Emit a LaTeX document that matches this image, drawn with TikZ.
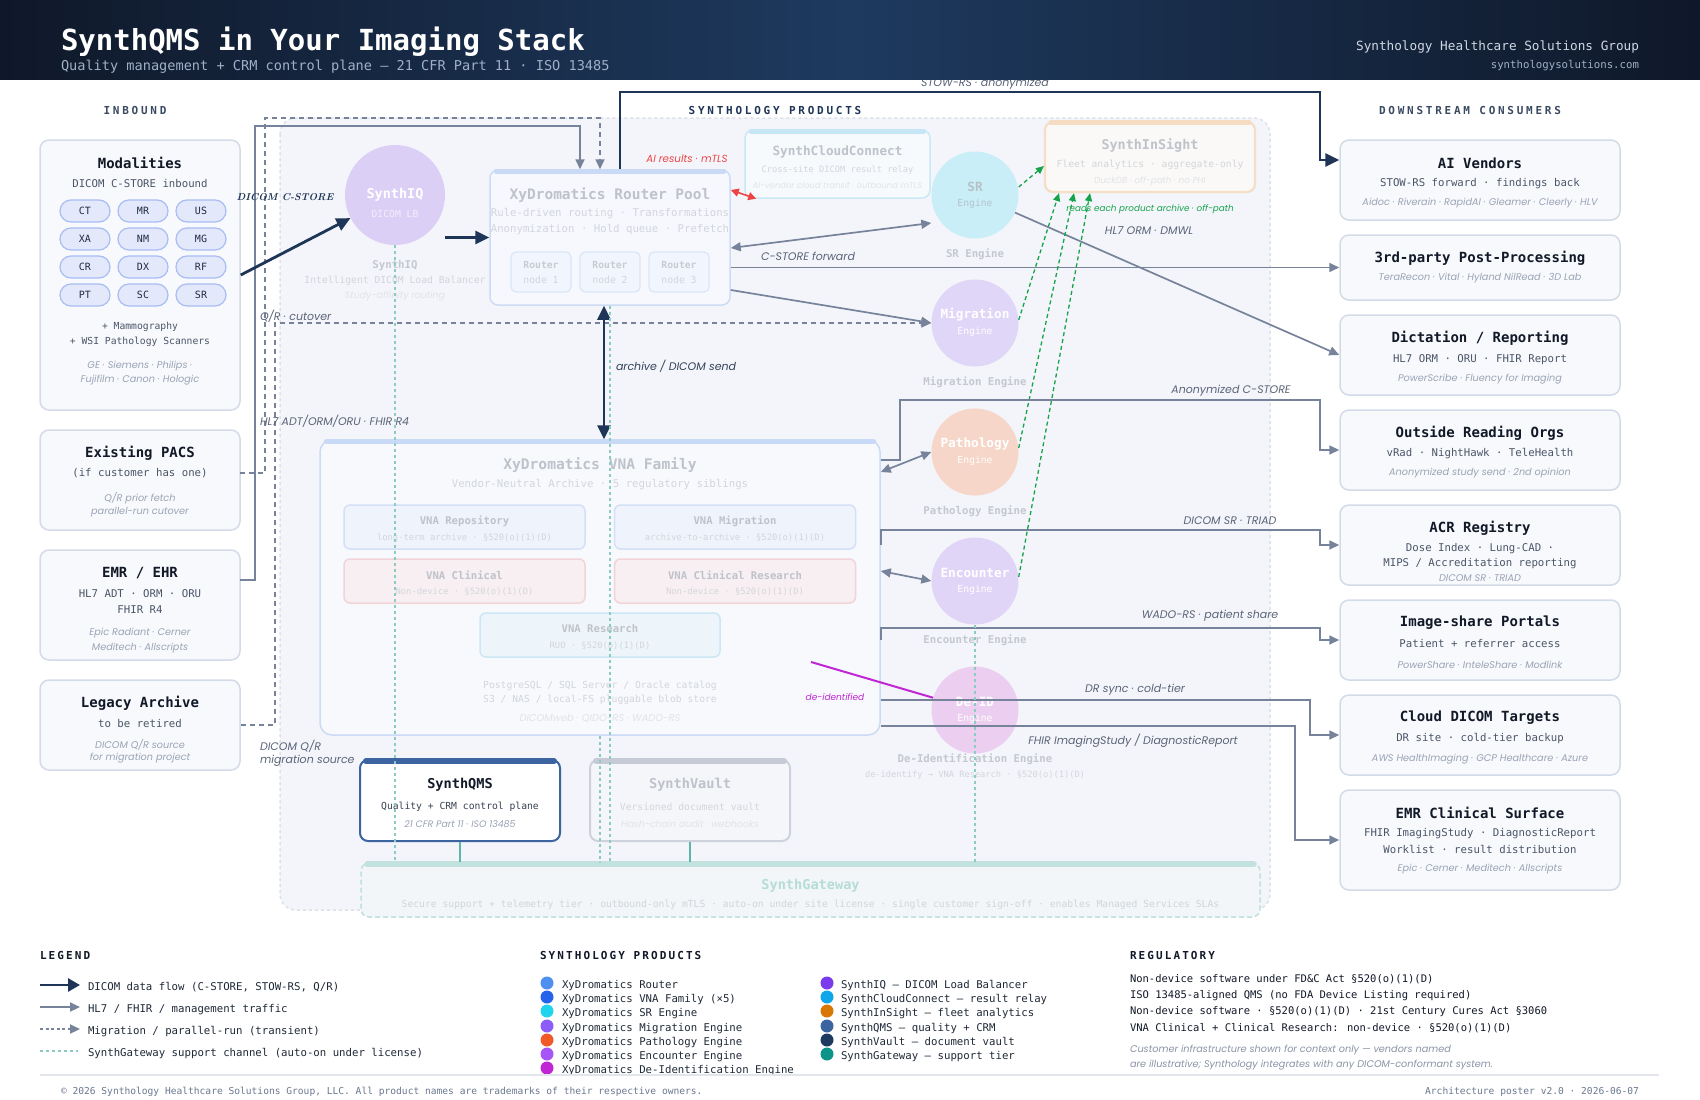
\documentclass[tikz,border=0pt]{standalone}
\usepackage{fontspec}
\setmonofont{DejaVu Sans Mono}
\newfontfamily\mono{DejaVu Sans Mono}
\newfontfamily\headf{DejaVu Sans Mono}[LetterSpace=25]
\newfontfamily\legf{DejaVu Sans Mono}[LetterSpace=19]
\newfontfamily\lab{Poppins}
\usetikzlibrary{arrows.meta,calc}
\newcommand\fsz[1]{\fontsize{#1}{#1}\selectfont}
\newcommand\T[4]{\node[#1] (#2) at (#3) {#4};}
\newcommand\topbar[3]{\draw[line width=#3, draw=#2, line cap=round] ($(#1.north west)+(7,2)$) -- ($(#1.north east)+(-7,2)$);}
\definecolor{hdl}{HTML}{0F1829}
\definecolor{hdm}{HTML}{1E3A5F}
\definecolor{cnavy}{HTML}{1E3557}
\definecolor{cgray}{HTML}{77839A}
\definecolor{ctitle}{HTML}{111827}
\definecolor{csub}{HTML}{4B5568}
\definecolor{cital}{HTML}{9AA3B5}
\definecolor{clbl}{HTML}{5B6478}
\definecolor{cbd}{HTML}{D3DBE8}
\definecolor{cbf}{HTML}{F7F9FC}
\definecolor{pfill}{HTML}{F3F5FA}
\definecolor{pbord}{HTML}{DCE1E9}
\definecolor{ft1}{HTML}{BEC2CA}
\definecolor{ft2}{HTML}{D2D5DB}
\definecolor{ft3}{HTML}{E1E3E7}
\definecolor{cteal}{HTML}{8CCBC2}
\definecolor{cteals}{HTML}{5DB5AA}
\definecolor{cred}{HTML}{EF4444}
\definecolor{cgreen}{HTML}{16A34A}
\definecolor{cmag}{HTML}{C026D3}
\definecolor{cqms}{HTML}{3B64A0}
\definecolor{pillbd}{HTML}{A9BDF5}
\definecolor{pillfi}{HTML}{E3E9FB}
\definecolor{pilltx}{HTML}{1F2A44}
\definecolor{englb}{HTML}{C4C8CF}
\definecolor{legtx}{HTML}{1F2937}
\definecolor{hsubc}{HTML}{9FB0C8}
\definecolor{hr1c}{HTML}{D0D8E4}
\definecolor{secc}{HTML}{3B4A63}
\definecolor{iqfill}{HTML}{DCCFF6}
\definecolor{iqsub}{HTML}{F3EEFD}
\definecolor{rtbd}{HTML}{CDDCF5}
\definecolor{rtfi}{HTML}{F6F8FD}
\definecolor{rtbar}{HTML}{C9DAF6}
\definecolor{rnbd}{HTML}{DCE6F7}
\definecolor{rnfi}{HTML}{F1F5FD}
\definecolor{rntx}{HTML}{C7CBD2}
\definecolor{ccbd}{HTML}{CBE8F6}
\definecolor{ccfi}{HTML}{F7FAFD}
\definecolor{ccbar}{HTML}{C6E6F6}
\definecolor{insbd}{HTML}{F5DEC6}
\definecolor{insfi}{HTML}{FAF9F8}
\definecolor{insbar}{HTML}{F5DCC2}
\definecolor{vnabd}{HTML}{CBDAF5}
\definecolor{vnafi}{HTML}{F7F9FD}
\definecolor{repbd}{HTML}{D3E0F7}
\definecolor{repfi}{HTML}{EFF3FC}
\definecolor{clibd}{HTML}{F2D4D8}
\definecolor{clifi}{HTML}{F8EFF2}
\definecolor{resbd}{HTML}{CCE7F4}
\definecolor{resfi}{HTML}{EDF5FB}
\definecolor{srfi}{HTML}{C9EEF7}
\definecolor{migfi}{HTML}{E0D6F7}
\definecolor{pathfi}{HTML}{F5D6C8}
\definecolor{encfi}{HTML}{E1D5F7}
\definecolor{deidfi}{HTML}{ECCFF0}
\definecolor{srtx}{HTML}{B5C3C9}
\definecolor{qmssub}{HTML}{374151}
\definecolor{vabd}{HTML}{CDD2DC}
\definecolor{vafi}{HTML}{F5F6F9}
\definecolor{vabar}{HTML}{C5CAD6}
\definecolor{gwbd}{HTML}{BFE0DD}
\definecolor{gwfi}{HTML}{F3F6F9}
\definecolor{gwbar}{HTML}{C2E2DF}
\definecolor{gwtx}{HTML}{B5DCD6}
\definecolor{gwsub}{HTML}{CFD5D9}
\definecolor{arlab}{HTML}{34425A}
\definecolor{notec}{HTML}{8A93A6}
\definecolor{divc}{HTML}{E2E6EC}
\definecolor{footc}{HTML}{6B7890}
\definecolor{d1}{HTML}{4F8FF0}\definecolor{d2}{HTML}{2563EB}\definecolor{d3}{HTML}{22D3EE}
\definecolor{d4}{HTML}{8B5CF6}\definecolor{d5}{HTML}{F05A28}\definecolor{d6}{HTML}{A855F7}
\definecolor{d7}{HTML}{C026D3}\definecolor{e1}{HTML}{7C3AED}\definecolor{e2}{HTML}{0EA5E9}
\definecolor{e3}{HTML}{D97706}\definecolor{e4}{HTML}{3B64A0}\definecolor{e5}{HTML}{1E3A5F}
\definecolor{e6}{HTML}{0D9488}
\begin{document}
\begin{tikzpicture}[x=1pt,y=-1pt,
  t/.style={inner sep=0pt, outer sep=0pt},
  box/.style={draw=cbd, line width=1.5pt, fill=cbf, rounded corners=9pt, inner sep=0pt},
  ttl/.style={t, font=\mono\bfseries\fsz{14}, text=ctitle},
  sub/.style={t, font=\mono\fsz{10.7}, text=csub, yshift=-1.5pt},
  ital/.style={t, font=\lab\itshape\fsz{9.7}, text=cital, yshift=-1.5pt},
  lbl/.style={t, font=\lab\itshape\fsz{11}, text=clbl},
  sec/.style={t, font=\headf\bfseries\fsz{11}},
  pill/.style={draw=pillbd, fill=pillfi, line width=1.2pt, rounded corners=11pt, minimum width=50pt, minimum height=22pt, inner sep=0pt, font=\mono\fsz{10}, text=pilltx},
  fbox/.style={line width=1.5pt, rounded corners=8pt, inner sep=0pt},
  eng/.style={circle, minimum size=87pt, inner sep=0pt, draw=none},
  engt/.style={t, font=\mono\bfseries\fsz{12.7}, text=white},
  engs/.style={t, font=\mono\fsz{9.7}, text=white},
  englab/.style={t, font=\mono\bfseries\fsz{10.7}, text=englb},
  navyarr/.style={draw=cnavy, line width=2.8pt, -{Triangle[length=14pt,width=13pt]}},
  garr/.style={draw=cgray, line width=1.7pt, -{Triangle[length=10pt,width=9pt]}},
  gdash/.style={garr, dash pattern=on 5pt off 4pt},
  tealdot/.style={draw=cteal, line width=1.5pt, dash pattern=on 3pt off 3pt},
  greendash/.style={draw=cgreen, line width=1.3pt, dash pattern=on 4pt off 3pt, -{Triangle[length=8pt,width=7pt]}},
  dot/.style={circle, minimum size=13pt, inner sep=0pt, draw=none},
  legt/.style={t, anchor=west, font=\mono\fsz{10.7}, text=legtx, yshift=-2.5pt}
]
\useasboundingbox (0,0) rectangle (1700,1100);
\fill[white] (0,0) rectangle (1700,1100);
% section heads
\T{sec, text=secc}{sInb}{135,110}{INBOUND}
\T{sec, text=cnavy}{sProd}{775,110}{SYNTHOLOGY PRODUCTS}
\T{sec, text=secc}{sDown}{1470,110}{DOWNSTREAM CONSUMERS}
% products panel
\draw[fill=pfill, draw=pbord, line width=1.5pt, dash pattern=on 3pt off 3pt, rounded corners=16pt] (280,118) rectangle (1270,910);
% left boxes
\node[box, minimum width=200pt, minimum height=270pt] (mod) at (140,275) {};
\node[box, minimum width=200pt, minimum height=100pt] (pacs) at (140,480) {};
\node[box, minimum width=200pt, minimum height=110pt] (emr) at (140,605) {};
\node[box, minimum width=200pt, minimum height=90pt] (legacy) at (140,725) {};
\T{ttl}{modT}{140,163}{Modalities}
\T{sub}{modS}{140,182}{DICOM C-STORE inbound}
\node[pill] (p1) at (85,211) {CT};
\node[pill] (p2) at (143,211) {MR};
\node[pill] (p3) at (201,211) {US};
\node[pill] (p4) at (85,239) {XA};
\node[pill] (p5) at (143,239) {NM};
\node[pill] (p6) at (201,239) {MG};
\node[pill] (p7) at (85,267) {CR};
\node[pill] (p8) at (143,267) {DX};
\node[pill] (p9) at (201,267) {RF};
\node[pill] (p10) at (85,295) {PT};
\node[pill] (p11) at (143,295) {SC};
\node[pill] (p12) at (201,295) {SR};
\T{sub, font=\mono\fsz{9.7}}{modM1}{140,325}{+ Mammography}
\T{sub, font=\mono\fsz{9.7}}{modM2}{140,340}{+ WSI Pathology Scanners}
\T{ital}{modI1}{140,365}{GE · Siemens · Philips ·}
\T{ital}{modI2}{140,379}{Fujifilm · Canon · Hologic}
\T{ttl}{pacsT}{140,453}{Existing PACS}
\T{sub}{pacsS}{140,472}{(if customer has one)}
\T{ital}{pacsI1}{140,497}{Q/R prior fetch}
\T{ital}{pacsI2}{140,511}{parallel-run cutover}
\T{ttl}{emrT}{140,573}{EMR / EHR}
\T{sub}{emrS1}{140,592}{HL7 ADT · ORM · ORU}
\T{sub}{emrS2}{140,608}{FHIR R4}
\T{ital}{emrI1}{140,632}{Epic Radiant · Cerner}
\T{ital}{emrI2}{140,647}{Meditech · Allscripts}
\T{ttl}{legT}{140,703}{Legacy Archive}
\T{sub}{legS}{140,722}{to be retired}
\T{ital}{legI1}{140,743}{DICOM Q/R source}
\T{ital}{legI2}{140,757}{for migration project}
% right boxes
\node[box, minimum width=280pt, minimum height=80pt] (ai) at (1480,180) {};
\node[box, minimum width=280pt, minimum height=65pt] (third) at (1480,267.5) {};
\node[box, minimum width=280pt, minimum height=80pt] (dict) at (1480,355) {};
\node[box, minimum width=280pt, minimum height=80pt] (out) at (1480,450) {};
\node[box, minimum width=280pt, minimum height=80pt] (acr) at (1480,545) {};
\node[box, minimum width=280pt, minimum height=80pt] (img) at (1480,640) {};
\node[box, minimum width=280pt, minimum height=80pt] (cloud) at (1480,735) {};
\node[box, minimum width=280pt, minimum height=100pt] (emrc) at (1480,840) {};
\T{ttl}{aiT}{1480,163}{AI Vendors}
\T{sub}{aiS}{1480,182}{STOW-RS forward · findings back}
\T{ital}{aiI}{1480,202}{Aidoc · Riverain · RapidAI · Gleamer · Cleerly · HLV}
\T{ttl}{thT}{1480,258}{3rd-party Post-Processing}
\T{ital}{thI}{1480,277}{TeraRecon · Vital · Hyland NilRead · 3D Lab}
\T{ttl}{diT}{1480,338}{Dictation / Reporting}
\T{sub}{diS}{1480,358}{HL7 ORM · ORU · FHIR Report}
\T{ital}{diI}{1480,378}{PowerScribe · Fluency for Imaging}
\T{ttl}{ouT}{1480,433}{Outside Reading Orgs}
\T{sub}{ouS}{1480,452}{vRad · NightHawk · TeleHealth}
\T{ital}{ouI}{1480,472}{Anonymized study send · 2nd opinion}
\T{ttl}{acT}{1480,528}{ACR Registry}
\T{sub}{acS1}{1480,547}{Dose Index · Lung-CAD ·}
\T{sub}{acS2}{1480,562}{MIPS / Accreditation reporting}
\T{ital}{acI}{1480,577}{DICOM SR · TRIAD}
\T{ttl}{imT}{1480,623}{Image-share Portals}
\T{sub}{imS}{1480,642}{Patient + referrer access}
\T{ital}{imI}{1480,663}{PowerShare · InteleShare · Modlink}
\T{ttl}{clT}{1480,718}{Cloud DICOM Targets}
\T{sub}{clS}{1480,737}{DR site · cold-tier backup}
\T{ital}{clI}{1480,758}{AWS HealthImaging · GCP Healthcare · Azure}
\T{ttl}{ecT}{1480,813}{EMR Clinical Surface}
\T{sub}{ecS1}{1480,832}{FHIR ImagingStudy · DiagnosticReport}
\T{sub}{ecS2}{1480,848}{Worklist · result distribution}
\T{ital}{ecI}{1480,868}{Epic · Cerner · Meditech · Allscripts}
% SynthIQ
\node[eng, minimum size=100pt, fill=iqfill] (iq) at (395,195) {};
\T{engt, font=\mono\bfseries\fsz{13.5}}{iqT}{395,195}{SynthIQ}
\T{engs, text=iqsub}{iqS}{395,214}{DICOM LB}
\T{englab}{iqL1}{395,266}{SynthIQ}
\T{t, font=\mono\fsz{9.7}, text=ft2}{iqL2}{395,281}{Intelligent DICOM Load Balancer}
\T{t, font=\lab\itshape\fsz{9.4}, text=ft3}{iqL3}{395,296}{Study-affinity routing}
% Router pool
\node[fbox, draw=rtbd, fill=rtfi, minimum width=240pt, minimum height=135pt] (router) at (610,237.5) {};
\topbar{router}{rtbar}{5pt}
\T{t, font=\mono\bfseries\fsz{14.5}, text=ft1}{rtT}{610,195}{XyDromatics Router Pool}
\T{t, font=\mono\fsz{10.7}, text=ft2}{rtS1}{610,214}{Rule-driven routing · Transformations}
\T{t, font=\mono\fsz{10.7}, text=ft2}{rtS2}{610,230}{Anonymization · Hold queue · Prefetch}
\node[fbox, draw=rnbd, fill=rnfi, line width=1.2pt, rounded corners=5pt, minimum width=60pt, minimum height=40pt] (rn1) at (541,272) {};
\node[fbox, draw=rnbd, fill=rnfi, line width=1.2pt, rounded corners=5pt, minimum width=60pt, minimum height=40pt] (rn2) at (610,272) {};
\node[fbox, draw=rnbd, fill=rnfi, line width=1.2pt, rounded corners=5pt, minimum width=60pt, minimum height=40pt] (rn3) at (679,272) {};
\T{t, font=\mono\bfseries\fsz{9.7}, text=rntx}{rn1a}{541,265}{Router}
\T{t, font=\mono\fsz{9.7}, text=ft2}{rn1b}{541,280}{node 1}
\T{t, font=\mono\bfseries\fsz{9.7}, text=rntx}{rn2a}{610,265}{Router}
\T{t, font=\mono\fsz{9.7}, text=ft2}{rn2b}{610,280}{node 2}
\T{t, font=\mono\bfseries\fsz{9.7}, text=rntx}{rn3a}{679,265}{Router}
\T{t, font=\mono\fsz{9.7}, text=ft2}{rn3b}{679,280}{node 3}
% SynthCloudConnect
\node[fbox, draw=ccbd, fill=ccfi, minimum width=185pt, minimum height=68pt] (cc) at (837.5,164) {};
\topbar{cc}{ccbar}{5pt}
\T{t, font=\mono\bfseries\fsz{12.7}, text=ft1}{ccT}{837.5,152}{SynthCloudConnect}
\T{t, font=\mono\fsz{8.7}, text=ft2}{ccS}{837.5,170}{Cross-site DICOM result relay}
\T{t, font=\lab\itshape\fsz{8.4}, text=ft3}{ccI}{837.5,185}{AI-vendor cloud transit · outbound mTLS}
% SynthInSight
\node[fbox, draw=insbd, line width=2.2pt, fill=insfi, minimum width=210pt, minimum height=70pt] (ins) at (1150,157) {};
\topbar{ins}{insbar}{5pt}
\T{t, font=\mono\bfseries\fsz{13.4}, text=ft1}{insT}{1150,145}{SynthInSight}
\T{t, font=\mono\fsz{9.7}, text=ft2}{insS}{1150,165}{Fleet analytics · aggregate-only}
\T{t, font=\lab\itshape\fsz{8.8}, text=ft3}{insI}{1150,181}{DuckDB · off-path · no PHI}
% VNA family
\node[fbox, draw=vnabd, fill=vnafi, rounded corners=12pt, minimum width=560pt, minimum height=295pt] (vna) at (600,587.5) {};
\topbar{vna}{rtbar}{5pt}
\T{t, font=\mono\bfseries\fsz{14.6}, text=ft1}{vnaT}{600,465}{XyDromatics VNA Family}
\T{t, font=\mono\fsz{10.7}, text=ft2}{vnaS}{600,485}{Vendor-Neutral Archive · 5 regulatory siblings}
\node[fbox, draw=repbd, fill=repfi, minimum width=241pt, minimum height=44pt, rounded corners=6pt] (vrep) at (464.5,527) {};
\node[fbox, draw=repbd, fill=repfi, minimum width=241pt, minimum height=44pt, rounded corners=6pt] (vmig) at (735,527) {};
\node[fbox, draw=clibd, fill=clifi, minimum width=241pt, minimum height=44pt, rounded corners=6pt] (vcli) at (464.5,581) {};
\node[fbox, draw=clibd, fill=clifi, minimum width=241pt, minimum height=44pt, rounded corners=6pt] (vcre) at (735,581) {};
\node[fbox, draw=resbd, fill=resfi, minimum width=240pt, minimum height=44pt, rounded corners=6pt] (vres) at (600,635) {};
\T{t, font=\mono\bfseries\fsz{10.6}, text=ft1}{vrepT}{464.5,521}{VNA Repository}
\T{t, font=\mono\fsz{8.8}, text=ft2}{vrepS}{464.5,538}{long-term archive · §520(o)(1)(D)}
\T{t, font=\mono\bfseries\fsz{10.6}, text=ft1}{vmigT}{735,521}{VNA Migration}
\T{t, font=\mono\fsz{8.8}, text=ft2}{vmigS}{735,538}{archive-to-archive · §520(o)(1)(D)}
\T{t, font=\mono\bfseries\fsz{10.6}, text=ft1}{vcliT}{464.5,575}{VNA Clinical}
\T{t, font=\mono\fsz{8.8}, text=ft2}{vcliS}{464.5,592}{Non-device · §520(o)(1)(D)}
\T{t, font=\mono\bfseries\fsz{10.6}, text=ft1}{vcreT}{735,575}{VNA Clinical Research}
\T{t, font=\mono\fsz{8.8}, text=ft2}{vcreS}{735,592}{Non-device · §520(o)(1)(D)}
\T{t, font=\mono\bfseries\fsz{10.6}, text=ft1}{vresT}{600,629}{VNA Research}
\T{t, font=\mono\fsz{8.8}, text=ft2}{vresS}{600,646}{RUO · §520(o)(1)(D)}
\T{t, font=\mono\fsz{9.7}, text=ft2}{vnaB1}{600,686}{PostgreSQL / SQL Server / Oracle catalog}
\T{t, font=\mono\fsz{9.7}, text=ft2}{vnaB2}{600,700}{S3 / NAS / local-FS pluggable blob store}
\T{t, font=\lab\itshape\fsz{9.9}, text=ft3}{vnaB3}{600,718}{DICOMweb · QIDO-RS · WADO-RS}
\T{t, font=\lab\itshape\fsz{9}, text=cmag}{deidL}{835,697}{de-identified}
% engines
\node[eng, fill=srfi] (sr) at (975,195) {};
\node[eng, fill=migfi] (mig) at (975,323) {};
\node[eng, fill=pathfi] (path) at (975,452) {};
\node[eng, fill=encfi] (enc) at (975,581) {};
\node[eng, fill=deidfi] (deid) at (975,710) {};
\T{engt, text=srtx}{srT}{975,187}{SR}
\T{engs, text=srtx}{srS}{975,204}{Engine}
\T{engt}{migT}{975,315}{Migration}
\T{engs}{migS}{975,332}{Engine}
\T{engt}{pathT}{975,444}{Pathology}
\T{engs}{pathS}{975,461}{Engine}
\T{engt}{encT}{975,573}{Encounter}
\T{engs}{encS}{975,590}{Engine}
\T{engt}{deidT}{975,702}{De-ID}
\T{engs}{deidS}{975,719}{Engine}
\T{englab}{srL}{975,254}{SR Engine}
\T{englab}{migL}{975,382}{Migration Engine}
\T{englab}{pathL}{975,511}{Pathology Engine}
\T{englab}{encL}{975,640}{Encounter Engine}
\T{englab}{deidL1}{975,759}{De-Identification Engine}
\T{t, font=\mono\fsz{8.7}, text=ft2}{deidL2}{975,775}{de-identify → VNA Research · §520(o)(1)(D)}
% SynthQMS, SynthVault, Gateway
\node[fbox, draw=cqms, line width=2pt, fill=white, minimum width=200pt, minimum height=81pt] (qms) at (460,800.5) {};
\topbar{qms}{cqms}{6pt}
\T{t, font=\mono\bfseries\fsz{13.6}, text=ctitle}{qmsT}{460,785}{SynthQMS}
\T{t, font=\mono\fsz{9.7}, text=qmssub}{qmsS}{460,807}{Quality + CRM control plane}
\T{t, font=\lab\itshape\fsz{9.4}, text=cital}{qmsI}{460,824}{21 CFR Part 11 · ISO 13485}
\node[fbox, draw=vabd, line width=2pt, fill=vafi, minimum width=200pt, minimum height=81pt] (vault) at (690,800.5) {};
\topbar{vault}{vabar}{6pt}
\T{t, font=\mono\bfseries\fsz{13.6}, text=ft1}{vaT}{690,785}{SynthVault}
\T{t, font=\mono\fsz{9.7}, text=ft2}{vaS}{690,807}{Versioned document vault}
\T{t, font=\lab\itshape\fsz{9.4}, text=ft3}{vaI}{690,824}{Hash-chain audit · webhooks}
\node[fbox, draw=gwbd, line width=1.5pt, dash pattern=on 5pt off 3pt, fill=gwfi, minimum width=899pt, minimum height=54pt] (gw) at (810.5,890) {};
\topbar{gw}{gwbar}{6pt}
\T{t, font=\mono\bfseries\fsz{13.6}, text=gwtx}{gwT}{810.5,886}{SynthGateway}
\T{t, font=\mono\fsz{9.7}, text=gwsub}{gwS}{810.5,905}{Secure support + telemetry tier · outbound-only mTLS · auto-on under site license · single customer sign-off · enables Managed Services SLAs}
% ---------- connectors ----------
\coordinate (emrO) at (240,580);
\coordinate (emrB) at (255,126);
\draw[garr] (emrO) -| (emrB) -| (router.north -| 580,0);
\coordinate (pacsO) at (240,473);
\coordinate (pacsB) at (265,118);
\draw[gdash] (pacsO) -| (pacsB) -| (router.north -| 600,0);
\coordinate (legB) at (275,323);
\draw[gdash] (legacy.east) -| (legB) -- (mig.west);
\draw[garr] (router.east |- 0,290) -- (mig.west);
\draw[garr, {Triangle[length=10pt,width=9pt]}-{Triangle[length=10pt,width=9pt]}] (router.east |- 0,248) -- (sr.west |- 0,223);
\draw[garr] (router.east |- third.west) -- (third.west);
\draw[garr] (sr) -- (dict.west);
\draw[draw=cred, line width=1.6pt, {Triangle[length=8pt,width=8pt]}-{Triangle[length=8pt,width=8pt]}] (router.east |- 0,190) -- ($(cc.south west)+(12,0)$);
\draw[greendash] (sr.east |- 0,187) -- (ins.west |- 0,166);
\draw[greendash] (mig.east |- 0,320) -- (ins.south -| 1059,0);
\draw[greendash] (path.east |- 0,448) -- (ins.south -| 1074,0);
\draw[greendash] (enc.east |- 0,577) -- (ins.south -| 1090,0);
\draw[garr, {Triangle[length=10pt,width=9pt]}-{Triangle[length=10pt,width=9pt]}] (vna.east |- 0,472) -- (path.west);
\draw[garr, {Triangle[length=10pt,width=9pt]}-{Triangle[length=10pt,width=9pt]}] (vna.east |- 0,571) -- (enc.west);
\coordinate (anA) at (900,460);
\coordinate (anB) at (1320,400);
\draw[garr] (vna.east |- 0,460) -- (anA) |- (anB) |- (out.west);
\coordinate (srB) at (1320,530);
\draw[garr] (vna.east |- 0,545) |- (srB) |- (acr.west);
\coordinate (waB) at (1320,628);
\draw[garr] (vna.east |- 0,640) |- (waB) |- (img.west);
\coordinate (drB) at (1310,735);
\draw[garr] (vna.east |- 0,700) -| (drB) -- (cloud.west);
\coordinate (fhB) at (1295,840);
\draw[garr] (vna.east |- 0,726) -| (fhB) -- (emrc.west);
\coordinate (mgS) at (811,662);
\draw[draw=cmag, line width=2pt] (mgS) -- (deid);
% navy
\draw[navyarr] (mod.east) -- (iq);
\draw[navyarr] (iq.east |- router.west) -- (router.west);
\draw[navyarr, {Triangle[length=14pt,width=13pt]}-{Triangle[length=14pt,width=13pt]}] (router.south -| 604,0) -- (vna.north -| 604,0);
\coordinate (stB) at (1320,92);
\draw[navyarr] (router.north -| 620,0) |- (stB) |- (ai.west |- 0,160);
% teal
\draw[tealdot] (iq.south) -- (iq.south |- gw.north);
\draw[tealdot] (router.south) -- (router.south |- gw.north);
\draw[tealdot] (vna.south) -- (vna.south |- gw.north);
\draw[tealdot] (enc.south) -- (enc.south |- gw.north);
\draw[draw=cteals, line width=1.6pt] (qms.south) -- (qms.south |- gw.north);
\draw[draw=cteals, line width=1.6pt] (vault.south) -- (vault.south |- gw.north);
% connector labels
\T{t, font=\rmfamily\itshape\bfseries\fsz{10}, text=cnavy}{lDC}{285,197}{DICOM C-STORE}
\T{lbl, anchor=west}{lQR}{260,316}{Q/R · cutover}
\T{lbl, anchor=west}{lHL7}{260,421}{HL7 ADT/ORM/ORU · FHIR R4}
\T{lbl, anchor=west}{lMQ1}{260,746}{DICOM Q/R}
\T{lbl, anchor=west}{lMQ2}{260,761}{migration source}
\T{lbl, text=cred, font=\lab\itshape\fsz{10.3}}{lAI}{687,159}{AI results · mTLS}
\T{lbl}{lCS}{808,256}{C-STORE forward}
\T{lbl, anchor=west, text=arlab}{lAR}{616,366}{archive / DICOM send}
\T{lbl}{lST}{985,84}{STOW-RS · anonymized}
\T{lbl, text=cgreen, font=\lab\itshape\fsz{8.8}}{lRE}{1150,209}{reads each product archive · off-path}
\T{lbl}{lHO}{1149,231}{HL7 ORM · DMWL}
\T{lbl}{lAN}{1231,391}{Anonymized C-STORE}
\T{lbl}{lTR}{1230,521}{DICOM SR · TRIAD}
\T{lbl}{lWA}{1210,616}{WADO-RS · patient share}
\T{lbl}{lDR}{1135,690}{DR sync · cold-tier}
\T{lbl}{lFH}{1133,741}{FHIR ImagingStudy / DiagnosticReport}
% header (drawn over the label just below it)
\shade[left color=hdl, right color=hdl, middle color=hdm] (0,0) rectangle (1700,79);
\T{t, anchor=west, font=\mono\bfseries\fsz{29}, text=white}{htitle}{61,42}{SynthQMS in Your Imaging Stack}
\T{t, anchor=west, font=\mono\fsz{13.6}, text=hsubc}{hsub}{61,67}{Quality management + CRM control plane — 21 CFR Part 11 · ISO 13485}
\T{t, anchor=east, font=\mono\fsz{12.7}, text=hr1c}{hr1}{1639,47.5}{Synthology Healthcare Solutions Group}
\T{t, anchor=east, font=\mono\fsz{10.7}, text=hsubc}{hr2}{1639,66}{synthologysolutions.com}
% ---------- legend ----------
\T{t, anchor=west, font=\legf\bfseries\fsz{11}, text=ctitle}{gL}{40,955}{LEGEND}
\T{t, anchor=west, font=\legf\bfseries\fsz{11}, text=ctitle}{gP}{540,955}{SYNTHOLOGY PRODUCTS}
\T{t, anchor=west, font=\legf\bfseries\fsz{11}, text=ctitle}{gR}{1130,955}{REGULATORY}
\coordinate (lg1a) at (40,985); \coordinate (lg1b) at (80,985);
\coordinate (lg2a) at (40,1007); \coordinate (lg2b) at (80,1007);
\coordinate (lg3a) at (40,1029); \coordinate (lg3b) at (80,1029);
\coordinate (lg4a) at (40,1051); \coordinate (lg4b) at (78,1051);
\draw[navyarr, -{Triangle[length=12pt,width=13pt]}] (lg1a) -- (lg1b);
\draw[garr, line width=2.2pt] (lg2a) -- (lg2b);
\draw[gdash, line width=2.2pt, dash pattern=on 3pt off 2.5pt] (lg3a) -- (lg3b);
\draw[tealdot] (lg4a) -- (lg4b);
\T{legt}{lt1}{88,985}{DICOM data flow (C-STORE, STOW-RS, Q/R)}
\T{legt}{lt2}{88,1007}{HL7 / FHIR / management traffic}
\T{legt}{lt3}{88,1029}{Migration / parallel-run (transient)}
\T{legt}{lt4}{88,1051}{SynthGateway support channel (auto-on under license)}
\node[dot, fill=d1] (pd1) at (547,983) {}; \T{legt}{pt1}{562,983}{XyDromatics Router}
\node[dot, fill=d2] (pd2) at (547,997) {}; \T{legt}{pt2}{562,997}{XyDromatics VNA Family (×5)}
\node[dot, fill=d3] (pd3) at (547,1011) {}; \T{legt}{pt3}{562,1011}{XyDromatics SR Engine}
\node[dot, fill=d4] (pd4) at (547,1026) {}; \T{legt}{pt4}{562,1026}{XyDromatics Migration Engine}
\node[dot, fill=d5] (pd5) at (547,1040) {}; \T{legt}{pt5}{562,1040}{XyDromatics Pathology Engine}
\node[dot, fill=d6] (pd6) at (547,1054) {}; \T{legt}{pt6}{562,1054}{XyDromatics Encounter Engine}
\node[dot, fill=d7] (pd7) at (547,1068) {}; \T{legt}{pt7}{562,1068}{XyDromatics De-Identification Engine}
\node[dot, fill=e1] (qd1) at (827,983) {}; \T{legt}{qt1}{841,983}{SynthIQ — DICOM Load Balancer}
\node[dot, fill=e2] (qd2) at (827,997) {}; \T{legt}{qt2}{841,997}{SynthCloudConnect — result relay}
\node[dot, fill=e3] (qd3) at (827,1011) {}; \T{legt}{qt3}{841,1011}{SynthInSight — fleet analytics}
\node[dot, fill=e4] (qd4) at (827,1026) {}; \T{legt}{qt4}{841,1026}{SynthQMS — quality + CRM}
\node[dot, fill=e5] (qd5) at (827,1040) {}; \T{legt}{qt5}{841,1040}{SynthVault — document vault}
\node[dot, fill=e6] (qd6) at (827,1054) {}; \T{legt}{qt6}{841,1054}{SynthGateway — support tier}
\T{legt, text=ctitle, font=\mono\fsz{10.5}}{rg1}{1130,977}{Non-device software under FD\&C Act §520(o)(1)(D)}
\T{legt, text=ctitle, font=\mono\fsz{10.5}}{rg2}{1130,993}{ISO 13485-aligned QMS (no FDA Device Listing required)}
\T{legt, text=ctitle, font=\mono\fsz{10.5}}{rg3}{1130,1009}{Non-device software · §520(o)(1)(D) · 21st Century Cures Act §3060}
\T{legt, text=ctitle, font=\mono\fsz{10.5}}{rg4}{1130,1026}{VNA Clinical + Clinical Research: non-device · §520(o)(1)(D)}
\T{t, anchor=west, font=\lab\itshape\fsz{9.7}, text=notec}{rn1}{1130,1050}{Customer infrastructure shown for context only — vendors named}
\T{t, anchor=west, font=\lab\itshape\fsz{9.7}, text=notec}{rn2}{1130,1065}{are illustrative; Synthology integrates with any DICOM-conformant system.}
\coordinate (dvA) at (40,1075); \coordinate (dvB) at (1659,1075);
\draw[draw=divc, line width=2.5pt] (dvA) -- (dvB);
\T{t, anchor=west, font=\mono\fsz{9.6}, text=footc}{ft1n}{61,1092}{© 2026 Synthology Healthcare Solutions Group, LLC. All product names are trademarks of their respective owners.}
\T{t, anchor=east, font=\mono\fsz{9.6}, text=footc}{ft2n}{1639,1092}{Architecture poster v2.0 · 2026-06-07}
\end{tikzpicture}
\end{document}
